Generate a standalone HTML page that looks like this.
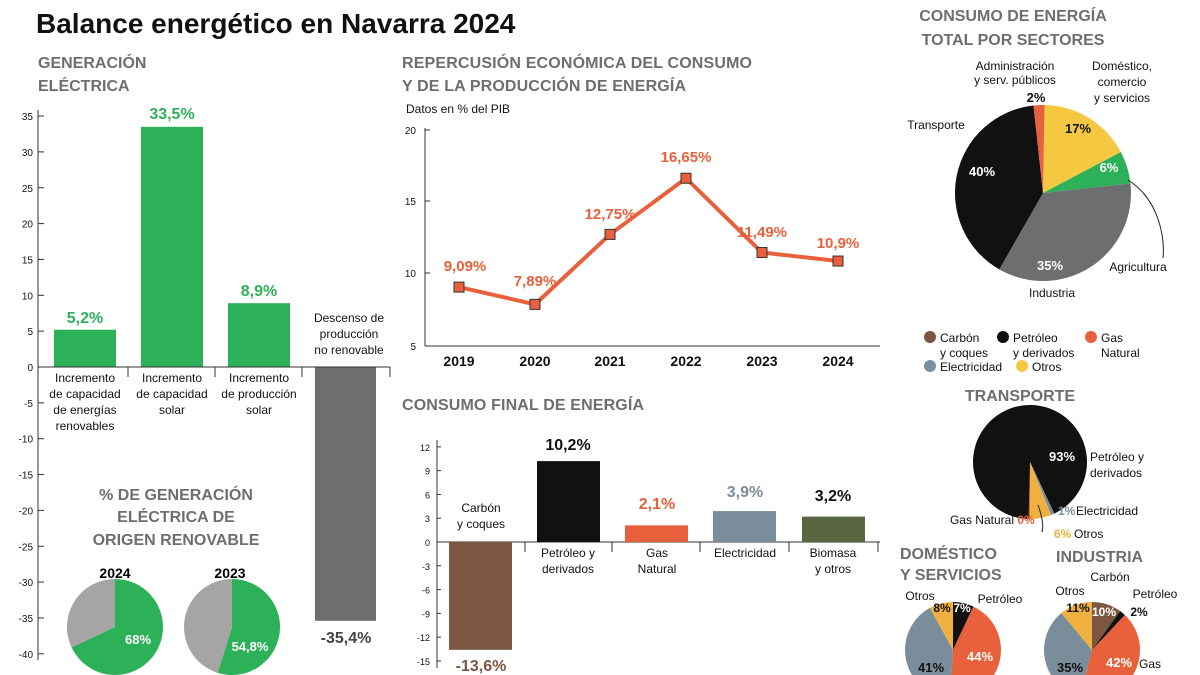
<!DOCTYPE html>
<html><head><meta charset="utf-8"><style>
body{margin:0;background:#fff}
svg{display:block;font-family:"Liberation Sans Narrow","Liberation Sans",sans-serif}
.h{font-weight:bold;fill:#6d6e70;font-size:16px}
</style></head><body>
<svg id="s" width="1200" height="675" viewBox="0 0 1200 675">
<text x="36" y="33" font-size="28" font-weight="bold" fill="#111">Balance energético en Navarra 2024</text>
<text class="h" x="38" y="68">GENERACIÓN</text><text class="h" x="38" y="91">ELÉCTRICA</text>
<text class="h" x="402" y="68" textLength="350">REPERCUSIÓN ECONÓMICA DEL CONSUMO</text>
<text class="h" x="402" y="91" textLength="284">Y  DE LA PRODUCCIÓN DE ENERGÍA</text>
<text x="406" y="113" font-size="12" fill="#111">Datos en % del PIB</text>
<text class="h" x="402" y="410" textLength="242">CONSUMO FINAL DE ENERGÍA</text>
<text class="h" x="1013" y="21" text-anchor="middle">CONSUMO DE ENERGÍA</text>
<text class="h" x="1013" y="45" text-anchor="middle">TOTAL POR SECTORES</text>
<text class="h" x="1020" y="401" text-anchor="middle">TRANSPORTE</text>
<text class="h" x="900" y="559">DOMÉSTICO</text><text class="h" x="900" y="580">Y SERVICIOS</text>
<text class="h" x="1056" y="562">INDUSTRIA</text>
<text class="h" x="176" y="500" text-anchor="middle">% DE GENERACIÓN</text>
<text class="h" x="176" y="522" text-anchor="middle">ELÉCTRICA DE</text>
<text class="h" x="176" y="545" text-anchor="middle">ORIGEN RENOVABLE</text>
<text x="115" y="578" font-size="14" font-weight="bold" text-anchor="middle">2024</text>
<text x="230" y="578" font-size="14" font-weight="bold" text-anchor="middle">2023</text>
<g id="g"></g>
</svg>
<script>
var g=document.getElementById('g'),h='';
function T(x,y,s,o){o=o||{};h+='<text x="'+x+'" y="'+y+'" font-size="'+(o.fs||12)+'" fill="'+(o.c||'#111')+'"'+(o.b?' font-weight="bold"':'')+' text-anchor="'+(o.a||'middle')+'">'+s+'</text>';}
function R(x,y,w,hh,c){h+='<rect x="'+x+'" y="'+y+'" width="'+w+'" height="'+hh+'" fill="'+c+'"/>';}
function L(a,b,c,d,col,w){h+='<line x1="'+a+'" y1="'+b+'" x2="'+c+'" y2="'+d+'" stroke="'+(col||'#333')+'" stroke-width="'+(w||1)+'"/>';}
function P(cx,cy,r,sl,st){var a=st||0;sl.forEach(function(s){var a2=a+s[0]*3.6;var r1=(a-90)*Math.PI/180,r2=(a2-90)*Math.PI/180;
var large=(a2-a)>180?1:0;h+='<path d="M'+cx+','+cy+' L'+(cx+r*Math.cos(r1))+','+(cy+r*Math.sin(r1))+' A'+r+','+r+' 0 '+large+' 1 '+(cx+r*Math.cos(r2))+','+(cy+r*Math.sin(r2))+' Z" fill="'+s[1]+'"/>';a=a2;});}
var G='#2db158',GR='#6d6e70',O='#e8603c',K='#111',BG='#7a8d9b',Y='#f5c842',BR='#7b5640';
var z=367,k=7.17;L(38,110,38,660);
for(var v=35;v>=-40;v-=5){var y=z-v*k;L(38,y,44,y);T(33,y+4,v,{fs:10,a:'end'});}
R(54,z-5.2*k,62,5.2*k,G);R(141,z-33.5*k,62,33.5*k,G);R(228,z-8.9*k,62,8.9*k,G);R(315,z,61,35.4*k,GR);
L(38,z,390,z);[128,215,302,390].forEach(function(x){L(x,z,x,z+10)});
T(85,z-44,'5,2%',{fs:16,b:1,c:G});T(172,z-248,'33,5%',{fs:16,b:1,c:G});T(259,z-71,'8,9%',{fs:16,b:1,c:G});
['Incremento','de capacidad','de energías','renovables'].forEach(function(s,i){T(85,382+i*16,s)});
['Incremento','de capacidad','solar'].forEach(function(s,i){T(172,382+i*16,s)});
['Incremento','de producción','solar'].forEach(function(s,i){T(259,382+i*16,s)});
['Descenso de','producción','no renovable'].forEach(function(s,i){T(349,322+i*16,s)});
T(346,643,'-35,4%',{fs:16,b:1,c:'#444'});
L(425,128,425,346);L(425,346,880,346);
[[20,130],[15,201],[10,273],[5,346]].forEach(function(p){T(416,p[1]+4,p[0],{fs:10,a:'end'});L(425,p[1],430,p[1])});
var yr=[2019,2020,2021,2022,2023,2024],xs=[459,535,610,686,762,838],vs=[9.09,7.89,12.75,16.65,11.49,10.9],lb=['9,09%','7,89%','12,75%','16,65%','11,49%','10,9%'];
var pts=xs.map(function(x,i){return x+','+(346-(vs[i]-5)*14.4)}).join(' ');
h+='<polyline points="'+pts+'" fill="none" stroke="'+O+'" stroke-width="4"/>';
xs.forEach(function(x,i){var y=346-(vs[i]-5)*14.4;h+='<rect x="'+(x-5)+'" y="'+(y-5)+'" width="10" height="10" fill="'+O+'" stroke="#333" stroke-width="1"/>';
T(x,366,yr[i],{fs:14,b:1});var ly=[271,286,219,162,237,248][i];T(x+(i==0?6:0),ly,lb[i],{fs:15,b:1,c:O});});
var z2=542,k2=7.93;L(437,440,437,668);
for(v=12;v>=-15;v-=3){y=z2-v*k2;T(430,y+4,v,{fs:9,a:'end'});L(437,y,441,y);}
L(437,z2,880,z2);[525,612,700,789,878].forEach(function(x){L(x,z2,x,z2+10)});
R(449,z2,63,13.6*k2,BR);R(537,z2-10.2*k2,63,10.2*k2,K);R(625,z2-2.1*k2,63,2.1*k2,O);R(713,z2-3.9*k2,63,3.9*k2,'#7a8d9b');R(802,z2-3.2*k2,63,3.2*k2,'#5a6640');
T(481,512,'Carbón');T(481,528,'y coques');T(568,557,'Petróleo y');T(568,573,'derivados');T(657,557,'Gas');T(657,573,'Natural');T(745,557,'Electricidad');T(833,557,'Biomasa');T(833,573,'y otros');
T(568,450,'10,2%',{fs:16,b:1});T(657,509,'2,1%',{fs:16,b:1,c:O});T(745,497,'3,9%',{fs:16,b:1,c:'#7a8d9b'});T(833,501,'3,2%',{fs:16,b:1});T(481,671,'-13,6%',{fs:16,b:1,c:BR});
P(1043,193,88,[[17,Y],[6,G],[35,GR],[40,K],[2,O]],1);
T(1078,133,'17%',{b:1,fs:13});T(1109,172,'6%',{b:1,c:'#fff',fs:13});T(1050,270,'35%',{b:1,c:'#fff',fs:13});T(982,176,'40%',{b:1,c:'#fff',fs:13});T(1036,102,'2%',{b:1,fs:13});
T(1015,70,'Administración');T(1015,84,'y serv. públicos');T(1122,70,'Doméstico,');T(1122,86,'comercio');T(1122,102,'y servicios');
T(936,129,'Transporte');T(1138,271,'Agricultura');T(1052,297,'Industria');
h+='<path d="M1128,180 C1160,200 1165,240 1163,258" fill="none" stroke="#222"/>';
[[930,337,BR,'Carbón','y coques'],[1003,337,K,'Petróleo','y derivados'],[1091,337,O,'Gas','Natural']].forEach(function(e){h+='<circle cx="'+e[0]+'" cy="'+e[1]+'" r="6" fill="'+e[2]+'"/>';T(e[0]+10,e[1]+5,e[3],{a:'start',fs:12});T(e[0]+10,e[1]+20,e[4],{a:'start',fs:12});});
h+='<circle cx="930" cy="366" r="6" fill="'+BG+'"/>';T(940,371,'Electricidad',{a:'start',fs:12});
h+='<circle cx="1022" cy="366" r="6" fill="'+Y+'"/>';T(1032,371,'Otros',{a:'start',fs:12});
P(1030,462,57,[[93,K],[1,BG],[6,'#f0b040'],[0.4,O]],180);
T(1062,461,'93%',{b:1,c:'#fff',fs:13});T(1090,461,'Petróleo y',{a:'start',fs:12});T(1090,477,'derivados',{a:'start',fs:12});
T(1058,515,'1%',{a:'start',fs:12,b:1,c:BG});T(1076,515,'Electricidad',{a:'start',fs:12});
T(1054,538,'6%',{a:'start',fs:12,b:1,c:'#f0b040'});T(1074,538,'Otros',{a:'start',fs:12});
T(1014,524,'Gas Natural',{a:'end',fs:12});T(1026,524,'0%',{fs:12,b:1,c:O});
h+='<path d="M1042,532 C1044,525 1042,516 1038,505" fill="none" stroke="#222"/>';
P(953,650,48,[[7,K],[44,O],[41,BG],[8,'#f0b040']]);
T(962,612,'7%',{b:1,c:'#fff'});T(942,612,'8%',{b:1});T(980,661,'44%',{b:1,c:'#fff',fs:13});T(931,672,'41%',{b:1,fs:13});
T(920,600,'Otros',{fs:12});T(1000,603,'Petróleo',{fs:12});
P(1092,650,48,[[10,BR],[2,K],[42,O],[35,BG],[11,'#f0b040']]);
T(1104,616,'10%',{b:1,c:'#fff'});T(1078,612,'11%',{b:1});T(1139,616,'2%',{b:1});T(1119,667,'42%',{b:1,c:'#fff',fs:13});T(1070,672,'35%',{b:1,fs:13});
T(1070,595,'Otros',{fs:12});T(1110,581,'Carbón',{fs:12});T(1155,598,'Petróleo',{fs:12});T(1150,668,'Gas',{fs:12});
P(115,627,48,[[68,G],[32,'#a7a4a4']]);P(232,627,48,[[54.8,G],[45.2,'#a7a4a4']]);
T(138,644,'68%',{b:1,c:'#fff',fs:13});T(250,651,'54,8%',{b:1,c:'#fff',fs:13});
g.innerHTML=h;
</script>
</body></html>
